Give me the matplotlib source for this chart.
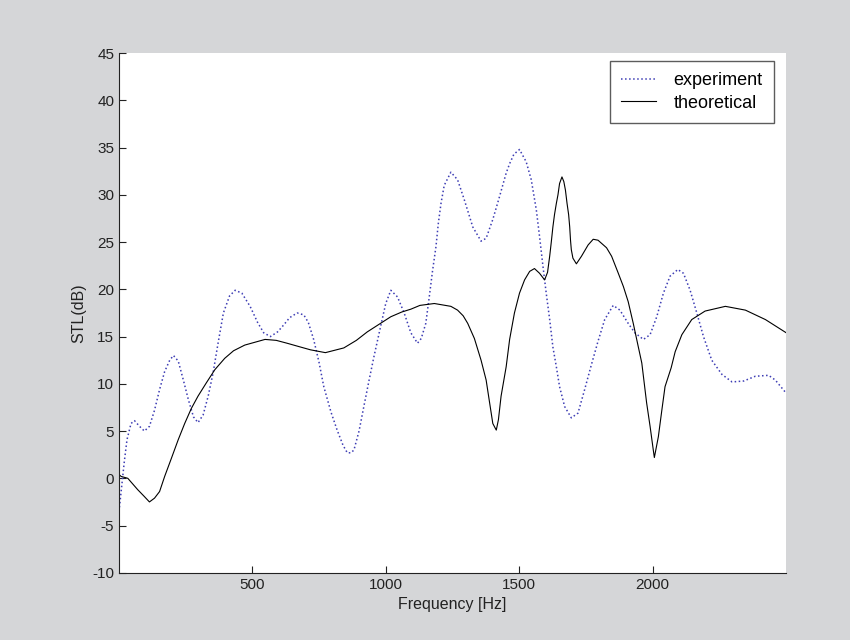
import matplotlib
matplotlib.use('Agg')
import matplotlib.pyplot as plt

# experiment curve
f_exp = [1, 9, 21, 31, 46, 59, 78, 96, 115, 134,
         153, 172, 191, 205, 223, 242, 261, 280, 297, 316,
         335, 353, 372, 392, 415, 436, 461, 492, 520, 543,
         568, 595, 617, 640, 668, 693, 710, 730, 750, 768,
         795, 818, 840, 856, 870, 881, 900, 918, 937, 956,
         981, 1000, 1019, 1044, 1069, 1094, 1119, 1133, 1150, 1163,
         1175, 1188, 1197, 1207, 1219, 1244, 1269, 1294, 1326, 1357,
         1376, 1401, 1426, 1451, 1464, 1480, 1501, 1526, 1545, 1564,
         1576, 1589, 1601, 1614, 1626, 1639, 1651, 1670, 1695, 1720,
         1745, 1770, 1795, 1820, 1852, 1877, 1908, 1933, 1965, 1990,
         2015, 2040, 2065, 2094, 2115, 2140, 2165, 2190, 2221, 2259,
         2297, 2341, 2384, 2434, 2459, 2500]
stl_exp = [-3.5, -1.4, 1.8, 4.1, 5.8, 6.1, 5.5, 5.0, 5.5, 7.2,
           9.4, 11.3, 12.5, 13.0, 12.4, 10.4, 8.3, 6.5, 5.9, 6.7,
           8.7, 11.1, 14.3, 17.5, 19.3, 19.9, 19.6, 18.2, 16.5, 15.4,
           15.0, 15.5, 16.2, 17.0, 17.5, 17.3, 16.5, 14.7, 12.3, 9.7,
           7.0, 5.1, 3.5, 2.7, 2.7, 3.0, 5.0, 7.6, 10.3, 12.9,
           16.1, 18.5, 19.9, 19.2, 17.5, 15.4, 14.3, 14.8, 16.4, 19.2,
           21.9, 24.5, 27.0, 29.1, 31.0, 32.4, 31.6, 29.5, 26.6, 25.1,
           25.4, 27.4, 29.8, 32.3, 33.3, 34.3, 34.8, 33.5, 31.6, 28.4,
           25.6, 22.4, 19.6, 16.8, 13.9, 11.8, 9.7, 7.6, 6.4, 6.9,
           9.4, 12.0, 14.5, 16.8, 18.3, 17.8, 16.4, 15.4, 14.7, 15.2,
           17.1, 19.6, 21.4, 22.1, 21.7, 19.9, 17.5, 15.0, 12.5, 11.0,
           10.2, 10.3, 10.8, 10.9, 10.4, 9.0]

# theoretical curve
f_th = [1, 9, 34, 71, 95, 115, 134, 153, 172, 197,
        223, 247, 272, 297, 328, 360, 397, 430, 472, 548,
        590, 630, 680, 718, 774, 843, 890, 931, 975, 1019,
        1060, 1094, 1128, 1182, 1244, 1269, 1290, 1307, 1332, 1357,
        1376, 1389, 1401, 1414, 1422, 1432, 1451, 1464, 1482, 1501,
        1520, 1539, 1557, 1576, 1595, 1606, 1614, 1620, 1626, 1632,
        1639, 1645, 1651, 1660, 1667, 1673, 1679, 1685, 1689, 1692,
        1695, 1701, 1714, 1733, 1758, 1777, 1795, 1827, 1846, 1871,
        1890, 1908, 1927, 1946, 1959, 1965, 1977, 1990, 2002, 2006,
        2021, 2034, 2046, 2069, 2084, 2109, 2146, 2196, 2272, 2347,
        2422, 2500]
stl_th = [0.4, 0.2, 0.0, -1.2, -1.9, -2.5, -2.1, -1.4, 0.2, 2.1,
          4.1, 5.8, 7.4, 8.7, 10.1, 11.5, 12.7, 13.5, 14.1, 14.7,
          14.6, 14.3, 13.9, 13.6, 13.3, 13.8, 14.6, 15.5, 16.3, 17.1,
          17.6, 17.9, 18.3, 18.5, 18.2, 17.8, 17.2, 16.4, 14.8, 12.5,
          10.4, 8.0, 5.8, 5.1, 6.2, 8.7, 11.8, 14.7, 17.5, 19.6,
          21.0, 21.9, 22.2, 21.7, 21.0, 21.8, 23.5, 25.0, 26.6, 27.9,
          29.1, 30.0, 31.2, 31.9, 31.4, 30.5, 29.1, 27.9, 26.6, 25.2,
          24.2, 23.3, 22.7, 23.5, 24.7, 25.3, 25.2, 24.4, 23.5, 21.7,
          20.3, 18.7, 16.4, 13.9, 12.2, 10.8, 8.0, 5.5, 3.0, 2.2,
          4.4, 7.2, 9.7, 11.7, 13.4, 15.2, 16.8, 17.7, 18.2, 17.8,
          16.8, 15.4]

x_ticks = [500, 1000, 1500, 2000]
y_ticks = list(range(-10, 50, 5))

plt.rcParams['font.family'] = ['Liberation Sans', 'DejaVu Sans']
plt.rcParams['axes.unicode_minus'] = False

fig = plt.figure(figsize=(8.5, 6.4), dpi=100, facecolor='#d5d6d8')
ax = fig.add_axes([0.14, 0.105, 0.785, 0.812])
ax.set_facecolor('white')

ax.plot(f_exp, stl_exp, ':', color='#3c3cb4', lw=1.1, label='experiment')
ax.plot(f_th, stl_th, '-', color='black', lw=0.8, label='theoretical')

ax.set_xlim(1, 2500)
ax.set_ylim(-10, 45)
ax.set_xticks(x_ticks)
ax.set_yticks(y_ticks)
ax.tick_params(direction='in', length=5, labelsize=11, colors='#222222')
ax.spines['top'].set_visible(False)
ax.spines['right'].set_visible(False)
ax.spines['left'].set_color('#222222')
ax.spines['bottom'].set_color('#222222')
ax.set_xlabel('Frequency [Hz]', fontsize=11.5, color='#222222')
ax.set_ylabel('STL(dB)', fontsize=11.5, color='#222222')

leg = ax.legend(loc='upper right', fontsize=13, frameon=True, fancybox=False,
                edgecolor='#333333', borderpad=0.6, handlelength=1.9,
                handletextpad=1.0, labelspacing=0.3, borderaxespad=0.0,
                bbox_to_anchor=(0.981, 0.984))
leg.get_frame().set_linewidth(1.0)

fig.savefig('out.png', dpi=100, facecolor=fig.get_facecolor())
